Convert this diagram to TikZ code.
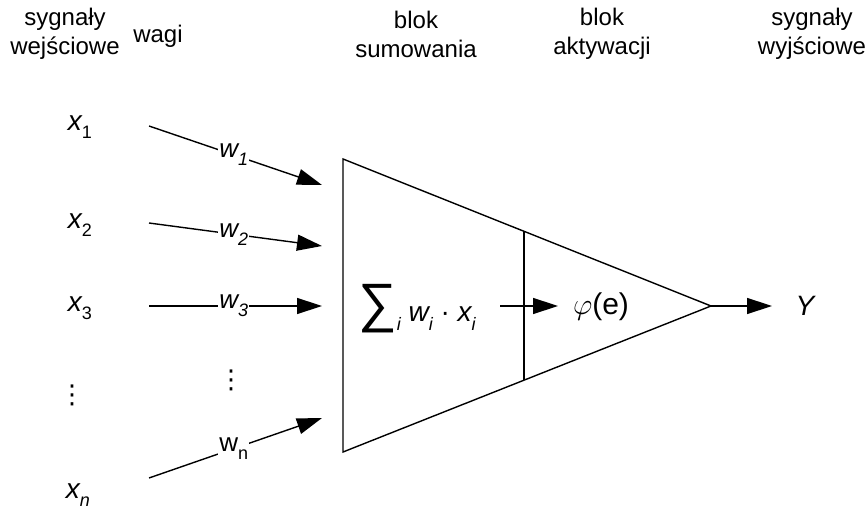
\documentclass[tikz,border=0pt]{standalone}
\usepackage{fix-cm}
\usepackage{fontspec}
\setmainfont{Liberation Sans}
\newfontfamily\djv{DejaVu Sans}
\usetikzlibrary{arrows.meta,calc}
\newcommand\mysub[1]{\raisebox{-0.3em}{\fontsize{18}{18}\selectfont #1}}
\begin{document}
\begin{tikzpicture}[x=1pt,y=-1pt,
  hdr/.style={align=center,font=\fontsize{24}{29}\selectfont},
  lbl/.style={font=\fontsize{28}{30}\selectfont\itshape, inner sep=0pt},
  dots/.style={font=\fontsize{26}{26}\djv, inner sep=0pt},
  wl/.style={font=\fontsize{26}{30}\selectfont\itshape, fill=white, inner sep=1pt},
  conn/.style={line width=1.4pt, -{Triangle[length=25pt,width=16pt]}},
  edgeline/.style={line width=1.4pt}]
\useasboundingbox (0,0) rectangle (868,510);
% headers
\node[hdr] (h1) at (65,34) {sygnały\\wejściowe};
\node[hdr] (h2) at (158,36) {wagi};
\node[hdr] (h3) at (416,34) {blok\\sumowania};
\node[hdr] (h4) at (602,34) {blok\\aktywacji};
\node[hdr] (h5) at (812,34) {sygnały\\wyjściowe};
% input labels
\node[lbl] (x1) at (80,127) {x\mysub{\upshape 1}};
\node[lbl] (x2) at (80,225) {x\mysub{\upshape 2}};
\node[lbl] (x3) at (80,308) {x\mysub{\upshape 3}};
\node[dots] (vd1) at (72,395) {⋮};
\node[lbl] (xn) at (78,495) {x\mysub{n}};
% arrow endpoints
\coordinate (s1) at (149,126); \coordinate (e1) at (322,185);
\coordinate (s2) at (149,223); \coordinate (e2) at (322,246);
\coordinate (s3) at (149,306); \coordinate (e3) at (322,306);
\coordinate (sn) at (149,478); \coordinate (en) at (322,418);
\draw[conn] (s1) -- node[wl, pos=0.49] (w1) {w\mysub{1}} (e1);
\draw[conn] (s2) -- node[wl, pos=0.49] (w2) {w\mysub{2}} (e2);
\draw[conn] (s3) -- node[wl, pos=0.49] (w3) {w\mysub{3}} (e3);
\draw[conn] (sn) -- node[wl, pos=0.49] (wn) {\upshape w\mysub{n}} (en);
\node[dots] (vd2) at (231,380) {⋮};
% triangle
\coordinate (A) at (343,159);
\coordinate (B) at (343,452);
\coordinate (C) at (711,306);
\draw[edgeline, line join=miter] (A) -- (C) -- (B) -- cycle;
\coordinate (D1) at ($(A)!0.4918!(C)$);
\coordinate (D2) at ($(B)!0.4918!(C)$);
\draw[edgeline] (D1) -- (D2);
% inner text
\node[font=\fontsize{28}{30}\selectfont\itshape, inner sep=0pt] (sum) at (417,309)
  {{\upshape\fontsize{54}{54}\selectfont ∑}\mysub{i} w\mysub{i} {\upshape ·} x\mysub{i}};
\coordinate (ia) at (500,306); \coordinate (ib) at (558,306);
\draw[conn] (ia) -- (ib);
\node[font=\fontsize{30}{30}\selectfont, inner sep=0pt] (phi) at (601,307) {$\varphi$(e)};
% output
\coordinate (yo) at (772,306);
\draw[conn] (C) -- (yo);
\node[lbl] (Y) at (805,306) {Y};
\end{tikzpicture}
\end{document}
